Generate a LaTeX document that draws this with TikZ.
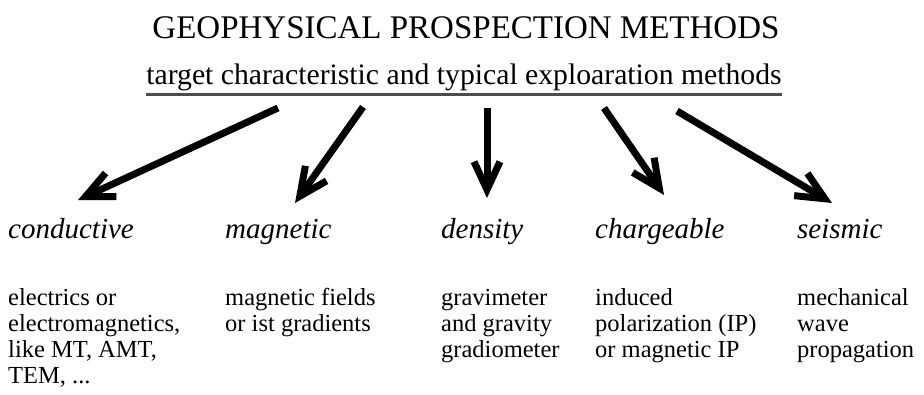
\documentclass[tikz,border=0pt]{standalone}
\usepackage{fontspec}
\setmainfont{Liberation Serif}
\usetikzlibrary{arrows.meta,positioning}
\tikzset{
  heading/.style={font=\fontsize{33}{36}\selectfont, inner sep=0pt, anchor=base},
  subhead/.style={font=\fontsize{29.7}{32}\selectfont, inner sep=0pt, anchor=base},
  target/.style={font=\fontsize{29}{32}\selectfont\itshape, inner sep=0pt, anchor=base west},
  method/.style={font=\fontsize{24.5}{26}\selectfont, inner sep=0pt, anchor=north west, align=left},
  pointer/.style={line width=7pt, -{Straight Barb[length=28pt, width=26pt]}},
}
\begin{document}
\begin{tikzpicture}[x=1pt,y=-1pt]
\useasboundingbox (0,0) rectangle (924,394);
\node[heading] (title) at (466,38) {GEOPHYSICAL PROSPECTION METHODS};
\node[subhead] (sub) at (464,84) {target characteristic and typical exploaration methods};
\draw[line width=2.5pt, black!70] ([yshift=-4pt]sub.south west) -- ([yshift=-4pt]sub.south east);
% target characteristics and methods, column by column
\foreach \n/\x/\t/\d in {
  cond/8/conductive/{electrics or\\electromagnetics,\\like MT, AMT,\\TEM, ...},
  magn/225/magnetic/{magnetic fields\\or ist gradients},
  dens/441/density/{gravimeter\\and gravity\\gradiometer},
  charg/595/chargeable/{induced\\polarization (IP)\\or magnetic IP},
  seis/797/seismic/{mechanical\\wave\\propagation}}{
  \node[target] (\n) at (\x,238) {\t};
  \node[method] (\n-m) at (\x,287) {\strut\d};
}
% arrows from the heading down to the targets
\foreach \n/\sx/\sy/\tx/\ty in {
  cond/278/108/78/200,
  magn/363/107/295/203,
  dens/487/108/487/198,
  charg/604/108/664/195,
  seis/677/111/832/203}{
  \coordinate (\n-s) at (\sx,\sy);
  \coordinate (\n-t) at (\tx,\ty);
  \draw[pointer] (\n-s) -- (\n-t);
}
\end{tikzpicture}
\end{document}
